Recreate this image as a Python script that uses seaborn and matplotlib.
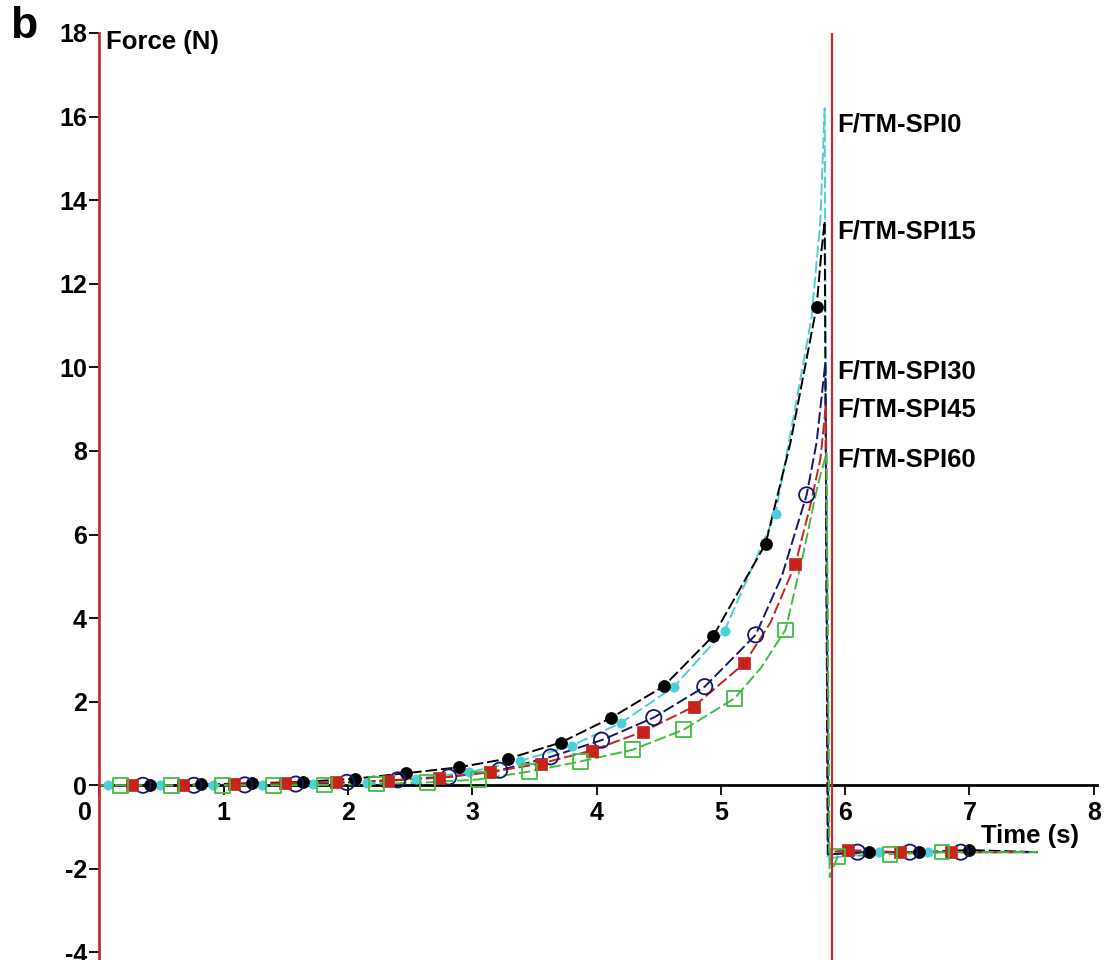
import matplotlib
matplotlib.use("Agg")
import matplotlib.pyplot as plt
import matplotlib.transforms as mtransforms
import seaborn as sns
import pandas as pd

# ---------------- data ----------------
series_names = ["F/TM-SPI0", "F/TM-SPI15", "F/TM-SPI30", "F/TM-SPI45", "F/TM-SPI60"]

# time (s), force (N), marker flag (1 = point carries a marker)
t_spi0 = [0.0, 0.07, 0.49, 0.91, 1.31, 1.72, 2.15, 2.55, 2.97, 3.38, 3.80, 4.20, 4.62, 5.03, 5.44,
          5.59, 5.73, 5.80, 5.835, 5.86, 6.27, 6.67, 7.55]
f_spi0 = [0.0, 0.0, 0.0, 0.0, 0.01, 0.02, 0.05, 0.16, 0.31, 0.58, 0.95, 1.50, 2.35, 3.70, 6.50,
          8.9, 11.2, 13.5, 16.2, -1.75, -1.6, -1.6, -1.6]
m_spi0 = [0, 1, 1, 1, 1, 1, 1, 1, 1, 1, 1, 1, 1, 1, 1,
          0, 0, 0, 0, 0, 1, 1, 0]

t_spi15 = [0.0, 0.41, 0.82, 1.23, 1.64, 2.06, 2.47, 2.89, 3.29, 3.71, 4.12, 4.54, 4.94, 5.36,
           5.56, 5.77, 5.81, 5.835, 5.86, 6.19, 6.59, 7.00, 7.55]
f_spi15 = [0.0, 0.0, 0.02, 0.05, 0.08, 0.16, 0.29, 0.43, 0.64, 1.02, 1.62, 2.37, 3.58, 5.78,
           8.2, 11.45, 12.8, 13.5, -1.65, -1.6, -1.6, -1.55, -1.6]
m_spi15 = [0, 1, 1, 1, 1, 1, 1, 1, 1, 1, 1, 1, 1, 1,
           0, 1, 0, 0, 0, 1, 1, 1, 0]

t_spi30 = [0.0, 0.35, 0.76, 1.17, 1.58, 1.99, 2.40, 2.81, 3.22, 3.63, 4.04, 4.46, 4.87, 5.28,
           5.49, 5.69, 5.77, 5.84, 5.865, 6.10, 6.52, 6.93, 7.50]
f_spi30 = [0.0, 0.0, 0.0, 0.01, 0.03, 0.07, 0.13, 0.20, 0.36, 0.68, 1.08, 1.62, 2.36, 3.60,
           5.0, 6.95, 8.2, 10.1, -1.65, -1.6, -1.6, -1.6, -1.6]
m_spi30 = [0, 1, 1, 1, 1, 1, 1, 1, 1, 1, 1, 1, 1, 1,
           0, 1, 0, 0, 0, 1, 1, 1, 0]

t_spi45 = [0.0, 0.26, 0.67, 1.08, 1.49, 1.90, 2.32, 2.73, 3.14, 3.55, 3.96, 4.37, 4.78, 5.19,
           5.40, 5.60, 5.72, 5.80, 5.845, 5.87, 6.02, 6.44, 6.85, 7.45]
f_spi45 = [0.0, 0.0, 0.0, 0.02, 0.05, 0.08, 0.11, 0.18, 0.31, 0.52, 0.83, 1.28, 1.88, 2.92,
           3.9, 5.3, 6.7, 7.8, 9.1, -1.6, -1.55, -1.6, -1.6, -1.6]
m_spi45 = [0, 1, 1, 1, 1, 1, 1, 1, 1, 1, 1, 1, 1, 1,
           0, 1, 0, 0, 0, 0, 1, 1, 1, 0]

t_spi60 = [0.0, 0.17, 0.58, 0.99, 1.40, 1.81, 2.23, 2.64, 3.05, 3.46, 3.87, 4.29, 4.70, 5.11,
           5.32, 5.52, 5.66, 5.78, 5.85, 5.875, 5.94, 6.36, 6.78, 7.55]
f_spi60 = [0.0, 0.0, 0.0, 0.0, 0.0, 0.01, 0.03, 0.07, 0.14, 0.33, 0.57, 0.85, 1.33, 2.08,
           2.8, 3.72, 5.5, 7.2, 7.95, -2.2, -1.7, -1.65, -1.6, -1.6]
m_spi60 = [0, 1, 1, 1, 1, 1, 1, 1, 1, 1, 1, 1, 1, 1,
           0, 1, 0, 0, 0, 0, 1, 1, 1, 0]

label_y = [15.8, 13.25, 9.9, 9.0, 7.8]
x_ticks = [0, 1, 2, 3, 4, 5, 6, 7, 8]
y_ticks = [-4, -2, 0, 2, 4, 6, 8, 10, 12, 14, 16, 18]
cursor_t = 5.89

# ---------------- style ----------------
sns.set_theme(style="white")
plt.rcParams["font.family"] = ["Liberation Sans", "DejaVu Sans"]

colors = ["#4ccfd9", "#000000", "#16186e", "#c8221c", "#3fbf3f"]
markers = ["o", "o", "o", "s", "s"]
filled = [True, True, False, True, False]
msize = [45, 75, 120, 75, 110]

data_t = [t_spi0, t_spi15, t_spi30, t_spi45, t_spi60]
data_f = [f_spi0, f_spi15, f_spi30, f_spi45, f_spi60]
data_m = [m_spi0, m_spi15, m_spi30, m_spi45, m_spi60]

fig = plt.figure(figsize=(11.11, 9.6), dpi=100)
ax = fig.add_axes([99.4 / 1111, 0.0, (1097 - 99.4) / 1111, (960 - 33) / 960])
ax.set_facecolor("white")

for name, t, f, m, col, mk, fl, s in zip(series_names, data_t, data_f, data_m,
                                         colors, markers, filled, msize):
    df = pd.DataFrame({"t": t, "f": f, "m": m})
    sns.lineplot(data=df, x="t", y="f", ax=ax, color=col, lw=1.4,
                 linestyle=(0, (6, 2)), estimator=None, sort=False, zorder=3)
    dm = df[df["m"] == 1]
    if fl:
        sns.scatterplot(data=dm, x="t", y="f", ax=ax, marker=mk, s=s, color=col,
                        edgecolor=col, linewidth=0.5, zorder=5)
    else:
        sns.scatterplot(data=dm, x="t", y="f", ax=ax, marker=mk, s=s, facecolor="none",
                        edgecolor=col, linewidth=1.3, zorder=5)

ax.axvline(cursor_t, color="#c8283c", lw=1.6, zorder=6)

ax.set_xlim(0, 8.026)
ax.set_ylim(-4.18, 18)

for side in ["top", "right"]:
    ax.spines[side].set_visible(False)
ax.spines["bottom"].set_position(("data", 0))
ax.spines["bottom"].set_color("black")
ax.spines["bottom"].set_linewidth(2.0)
ax.spines["left"].set_color("#cc2a3a")
ax.spines["left"].set_linewidth(2.0)
ax.spines["left"].set_zorder(7)

ax.set_xticks(x_ticks)
ax.set_xticklabels([str(v) for v in x_ticks], fontweight="bold")
ax.set_yticks(y_ticks)
ax.set_yticklabels([str(v) for v in y_ticks], fontweight="bold")
ax.tick_params(axis="both", direction="out", length=7, width=1.3, colors="black",
               labelsize=18, left=True, bottom=True)
ax.tick_params(axis="x", pad=4)
ax.tick_params(axis="y", pad=2)
# shift the "0" of the time axis to the left, as in the original
lab0 = ax.get_xticklabels()[0]
lab0.set_transform(lab0.get_transform() +
                   mtransforms.ScaledTranslation(-14 / 100, 0, fig.dpi_scale_trans))
ax.set_xlabel("")
ax.set_ylabel("")
ax.grid(False)

# annotations
ax.text(0.056, 17.78, "Force (N)", fontsize=18.5, fontweight="bold", ha="left",
        va="center", color="black")
ax.text(7.09, -1.22, "Time (s)", fontsize=18.5, fontweight="bold", ha="left",
        va="center", color="black")
for name, yv in zip(series_names, label_y):
    ax.text(5.935, yv, name, fontsize=18.5, fontweight="bold", ha="left", va="center",
            color="black")

fig.text(10 / 1111, 1 - 27 / 960, "b", fontsize=32, fontweight="bold", ha="left",
         va="center", color="black")

fig.savefig("out.png", dpi=100, facecolor="white")
